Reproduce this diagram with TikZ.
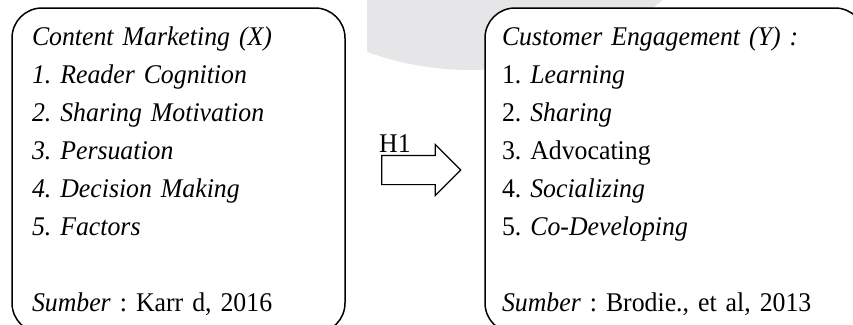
\documentclass[tikz,border=0pt]{standalone}
\usepackage{fontspec}
\setmainfont[FakeStretch=0.955]{Liberation Serif}
\usetikzlibrary{shapes.arrows}
\definecolor{wmgray}{RGB}{230,230,233}
\tikzstyle{varbox} = [rectangle, rounded corners=30pt, draw=black, line width=1.5pt, fill=white, minimum width=333pt, minimum height=325pt]
\tikzstyle{item} = [text width=340pt, align=left, text height=18pt, text depth=6pt, inner sep=0pt]
\tikzstyle{bigarrow} = [single arrow, draw=black, line width=1.2pt, fill=white, minimum height=79pt, inner xsep=0pt, inner ysep=14pt, single arrow head extend=11pt]

\begin{document}
\frenchspacing
\begin{tikzpicture}[x=1pt, y=1pt, node distance=38pt, font=\fontsize{27}{31}\selectfont]
    \clip (0,0) rectangle (853,-324);
    % faint watermark behind the boxes
    \begin{scope}
        \clip (367,0) rectangle (853,-100);
        \fill [wmgray] (470,230) circle (300pt);
    \end{scope}

    \node (xbox) [varbox] at (178.5,-170.5) {};
    \node (ybox) [varbox, minimum width=380pt] at (675,-170.5) {};
    \node (arrow) [bigarrow] at (414,-170) {};
    \node (hyp) [anchor=base west, inner sep=0pt] at (379,-152) {H1};

    \node (xhead) [item] at (202,-39) {\textit{Content Marketing (X)}};
    \node (x1) [item, below of=xhead] {\textit{1. Reader Cognition}};
    \node (x2) [item, below of=x1] {\textit{2. Sharing Motivation}};
    \node (x3) [item, below of=x2] {\textit{3. Persuation}};
    \node (x4) [item, below of=x3] {\textit{4. Decision Making}};
    \node (x5) [item, below of=x4] {\textit{5. Factors}};
    \node (xsrc) [item, below of=x5, yshift=-38pt] {\textit{Sumber} : Karr d, 2016};

    \node (yhead) [item] at (672,-39) {\textit{Customer Engagement (Y) :}};
    \node (y1) [item, below of=yhead] {1. \textit{Learning}};
    \node (y2) [item, below of=y1] {2. \textit{Sharing}};
    \node (y3) [item, below of=y2] {3. Advocating};
    \node (y4) [item, below of=y3] {4. \textit{Socializing}};
    \node (y5) [item, below of=y4] {5. \textit{Co-Developing}};
    \node (ysrc) [item, below of=y5, yshift=-38pt] {\textit{Sumber} : Brodie., et al, 2013};
\end{tikzpicture}
\end{document}
